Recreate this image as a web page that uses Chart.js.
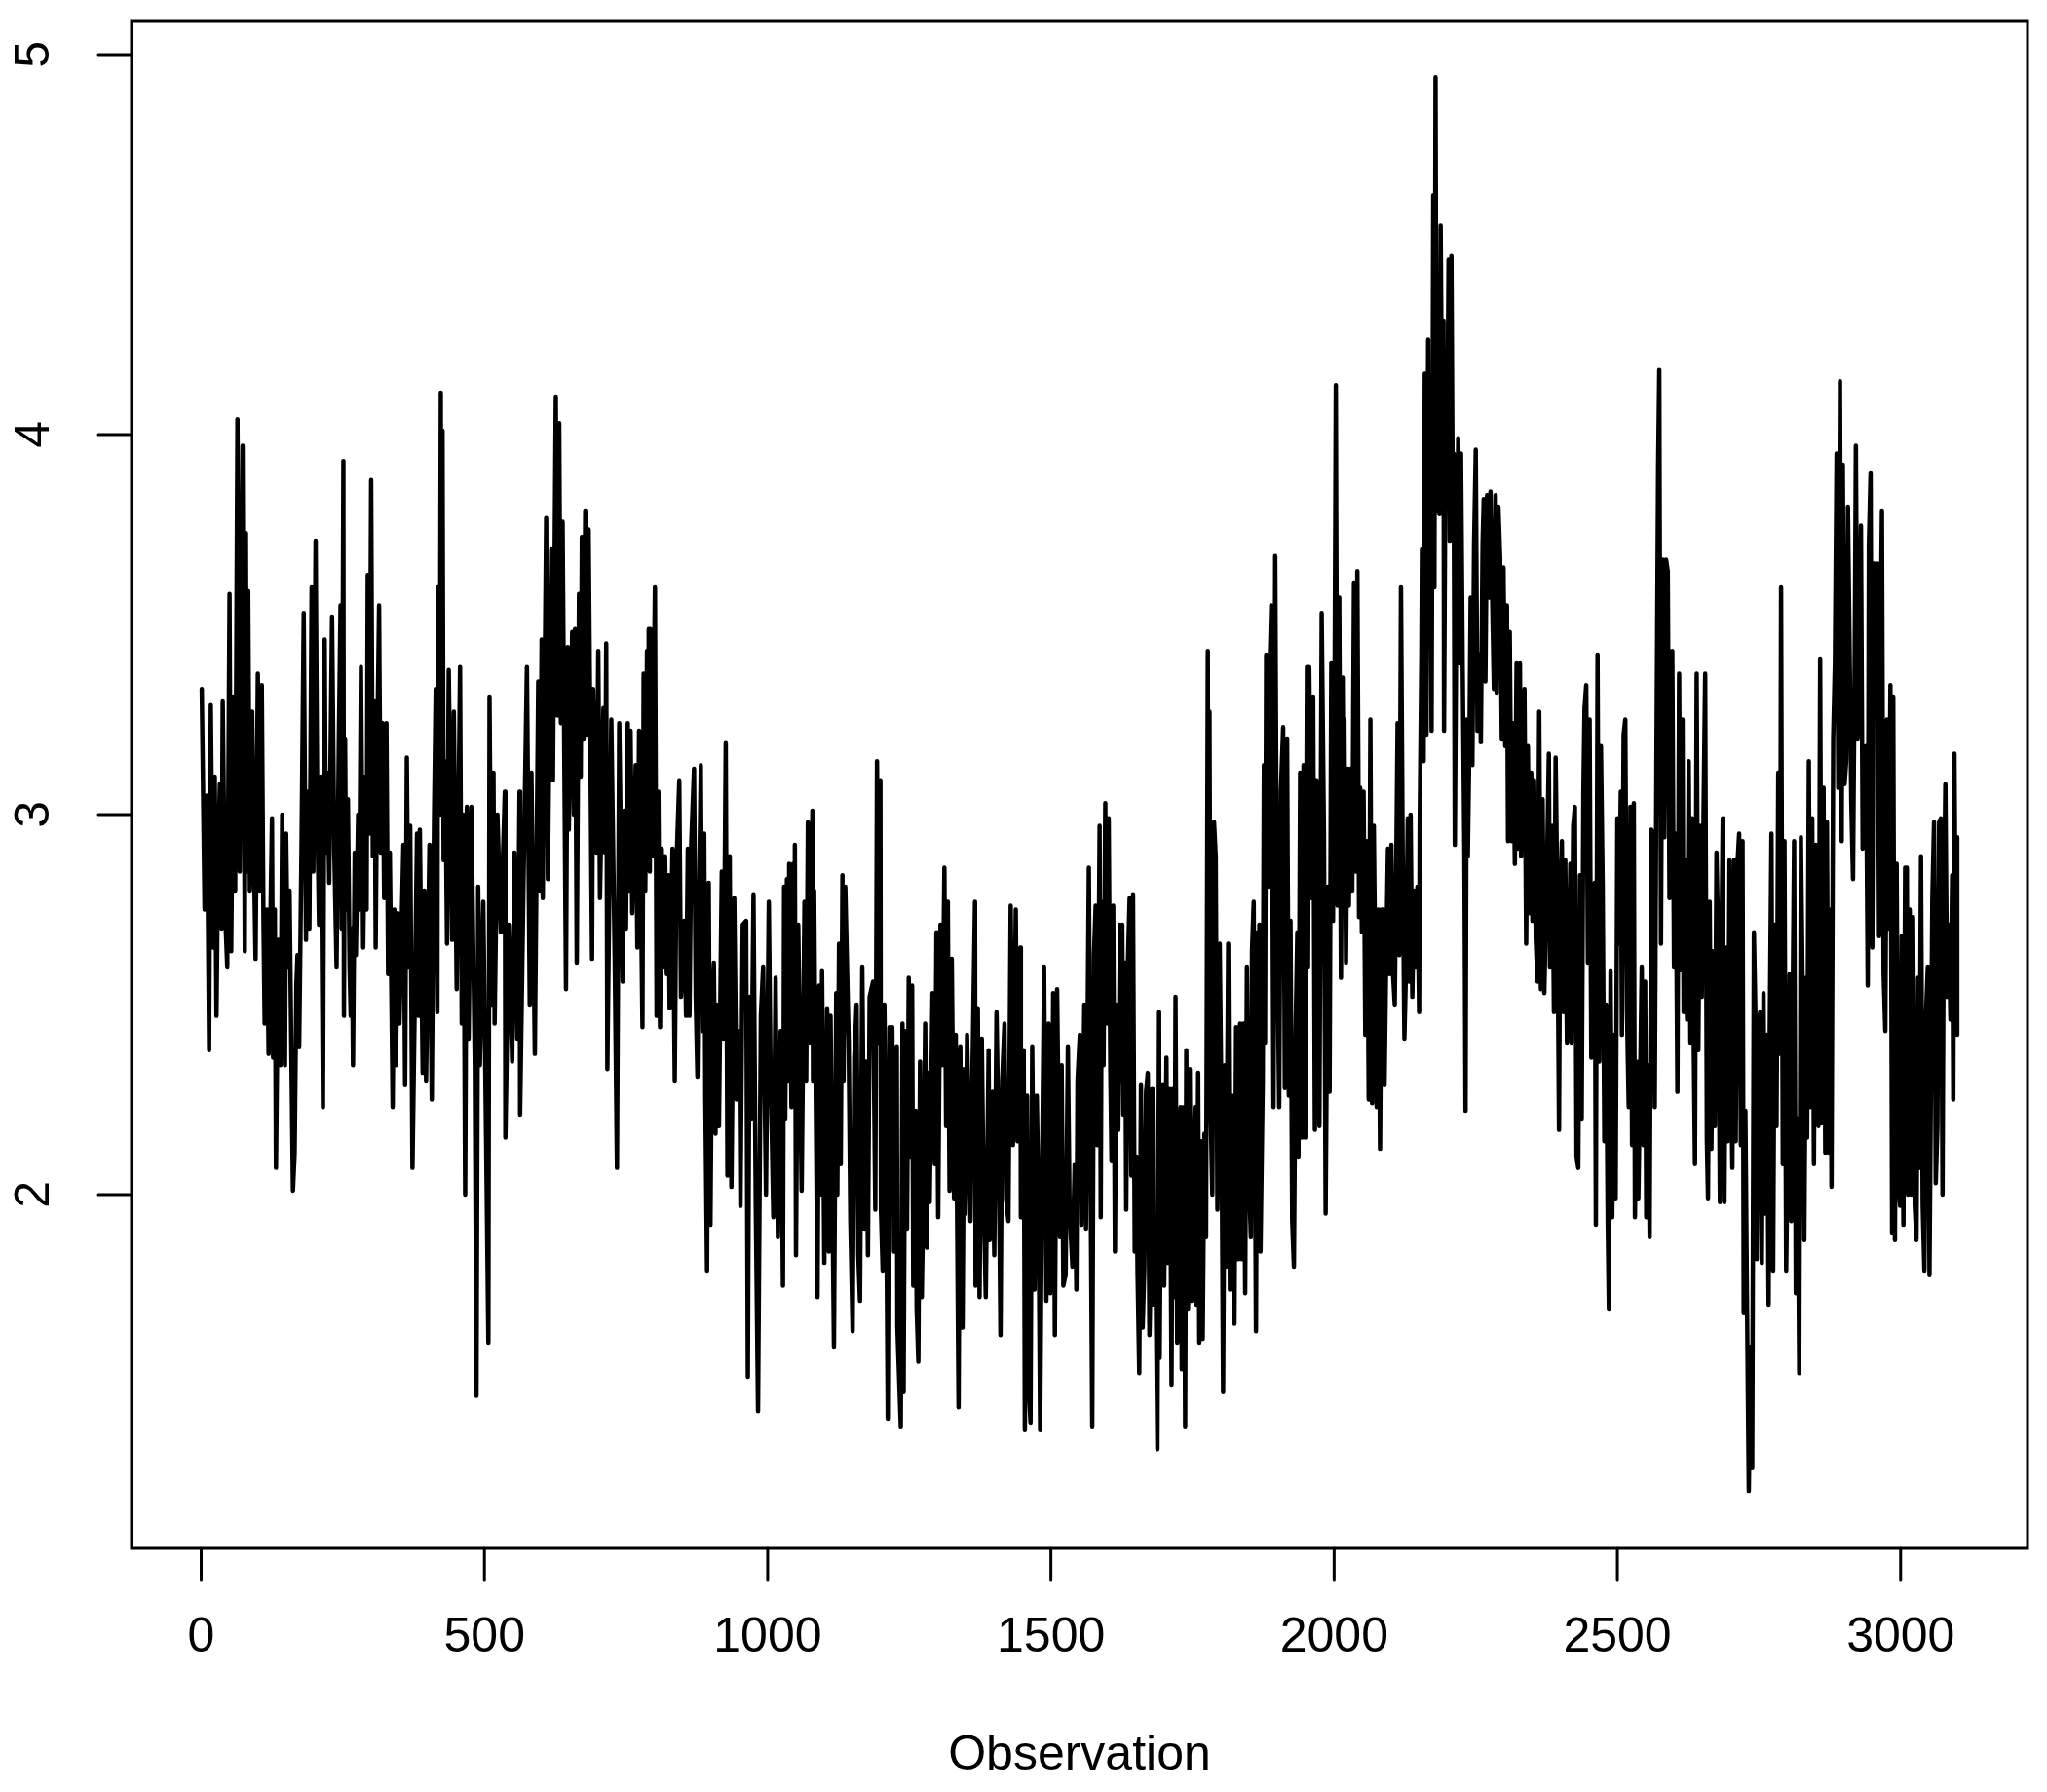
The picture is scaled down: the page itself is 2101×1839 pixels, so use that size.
<!DOCTYPE html>
<html>
<head>
<meta charset="utf-8">
<script src="https://cdn.jsdelivr.net/npm/chart.js@4/dist/chart.umd.min.js"></script>
<style>
html,body{margin:0;padding:0;background:#ffffff;}
canvas{display:block;}
</style>
</head>
<body>
<canvas id="c" width="2101" height="1839"></canvas>
<script>
// Observation index of each read-off point
const observation = [
1,6,10,14,17,21,24,27,30,33,36,38,42,46,50,53,57,60,64,68,73,77,79,81,83,86,90,93,96,100,103,107,110,112,116,119,122,125,127,130,132,136,140,143,146,148,150,153,156,159,162,165,168,170,173,177,181,185,188,191,195,198,202,205,208,211,215,218,220,223,226,231,235,239,243,246,248,251,252,254,256,259,262,264,266,268,271,273,277,279,282,286,290,292,294,297,300,303,306,308,311,314,317,320,323,327,330,333,338,341,344,347,350,357,360,363,366,369,373,377,381,384,
386,391,394,397,403,407,411,414,417,418,421,423,424,426,428,431,434,437,443,446,451,457,460,463,466,469,472,477,483,486,489,492,498,503,507,509,513,516,518,523,529,536,537,543,549,553,558,562,563,569,575,580,583,589,595,598,601,603,609,612,618,621,626,629,632,635,638,644,647,649,655,658,660,663,667,670,672,675,678,681,684,690,692,698,701,704,710,713,715,717,724,730,734,738,744,747,750,753,756,758,761,767,770,773,779,781,
784,787,789,790,792,793,796,801,804,807,810,813,816,819,822,825,827,832,836,839,844,847,853,856,859,862,865,870,873,876,879,882,885,888,890,893,896,899,902,905,908,910,914,919,922,926,929,933,936,941,945,950,952,956,962,965,968,971,975,979,983,988,992,997,1002,1005,1010,1014,1018,1023,1027,1029,1031,1034,1036,1038,1042,1045,1047,1048,1050,1054,1060,1065,1068,1071,1074,1079,1080,1082,1084,1088,1091,1093,1096,1100,1105,1108,1111,1117,1121,1123,1126,1129,1132,1134,1137,1143,1146,1150,1153,1157,1160,1163,1167,1171,1174,1177,1180,1186,1190,1193,
1196,1199,1200,1203,1206,1209,1212,1215,1218,1220,1223,1228,1229,1235,1238,1240,1243,1246,1249,1252,1255,1257,1261,1263,1266,1269,1272,1275,1278,1281,1283,1286,1291,1295,1298,1301,1305,1308,1312,1315,1318,1321,1325,1329,1332,1337,1340,1344,1347,1349,1352,1358,1361,1366,1367,1371,1374,1378,1381,1385,1390,1392,1397,1400,1404,1408,1411,1414,1418,1421,1425,1429,1433,1438,1441,1446,1447,1452,1454,1458,1461,1464,1467,1471,1475,1478,1481,1484,1488,1492,1496,1499,1502,1504,1507,1511,1516,1519,1522,1526,1530,1533,1538,1542,1545,1547,1551,1554,1559,1562,1567,1570,1573,1576,1579,1582,1586,1588,
1590,1593,1596,1599,1602,1605,1607,1610,1613,1616,1619,1622,1624,1626,1628,1631,1633,1636,1639,1642,1645,1648,1651,1653,1656,1659,1662,1665,1668,1671,1674,1676,1679,1682,1685,1688,1691,1692,1695,1698,1700,1704,1706,1710,1713,1715,1718,1720,1723,1727,1729,1731,1735,1737,1739,1742,1745,1748,1751,1754,1757,1760,1762,1765,1768,1771,1774,1777,1778,1780,1782,1785,1788,1791,1794,1798,1801,1804,1807,1809,1813,1816,1820,1824,1827,1831,1834,1837,1840,1843,1846,1849,1853,1855,1858,1862,1865,1867,1868,1870,1874,1876,1878,1880,1883,1886,1889,1893,1896,1899,1903,1906,1910,1913,1917,1920,1923,1926,1929,1932,1935,1937,1940,1943,1946,1949,1952,1954,1956,1960,1963,1966,1969,1974,1978,1982,1985,
1989,1992,1995,1998,2001,2003,2006,2009,2012,2015,2017,2018,2021,2024,2026,2029,2032,2035,2038,2041,2044,2046,2049,2052,2055,2058,2061,2064,2067,2070,2075,2078,2081,2084,2085,2087,2089,2092,2095,2098,2101,2104,2107,2110,2112,2115,2118,2121,2124,2127,2130,2133,2135,2138,2141,2144,2147,2150,2151,2154,2155,2158,2160,2163,2166,2168,2170,2172,2175,2177,2179,2181,2184,2186,2188,2191,2193,2194,2197,2199,2202,2204,2207,2209,2211,2213,2216,2219,2221,2224,2227,2230,2232,2234,2236,2239,2241,2244,2247,2250,2253,2256,2259,2262,2264,2267,2270,2273,2276,2279,2282,2285,2287,2290,2293,2296,2299,2302,2305,2307,2310,2313,2316,2319,2322,2325,2328,2330,2333,2336,2339,2342,2345,2348,2350,2353,2356,2359,2362,2365,2368,2371,2376,2379,2381,
2385,2388,2391,2394,2397,2399,2402,2405,2408,2411,2414,2417,2419,2422,2425,2428,2431,2434,2437,2440,2442,2445,2448,2451,2454,2457,2460,2462,2465,2468,2471,2474,2477,2480,2483,2485,2488,2491,2494,2497,2500,2503,2506,2508,2511,2514,2517,2520,2523,2526,2529,2531,2534,2537,2540,2543,2546,2549,2551,2554,2557,2560,2563,2566,2569,2572,2574,2577,2580,2583,2586,2589,2592,2594,2597,2600,2603,2606,2609,2612,2615,2617,2620,2623,2626,2629,2632,2635,2637,2640,2643,2646,2649,2652,2655,2658,2660,2663,2666,2669,2672,2675,2678,2681,2683,2686,2689,2692,2695,2698,2701,2703,2706,2709,2712,2715,2718,2721,2723,2726,2729,2732,2735,2738,2741,2744,2746,2749,2752,2755,2758,2761,2764,2767,2769,2772,2775,
2778,2781,2784,2787,2789,2792,2795,2798,2801,2804,2807,2810,2812,2815,2818,2821,2824,2827,2830,2833,2835,2838,2841,2844,2847,2850,2853,2855,2858,2861,2864,2867,2870,2873,2876,2878,2881,2884,2887,2890,2893,2896,2898,2901,2904,2907,2910,2913,2916,2919,2921,2924,2927,2930,2933,2936,2939,2942,2944,2947,2950,2953,2956,2959,2962,2964,2967,2970,2973,2976,2979,2982,2985,2987,2990,2993,2996,2999,3002,3005,3008,3010,3011,3013,3016,3019,3022,3025,3028,3031,3033,3036,3039,3042,3045,3048,3051,3053,3056,3059,3062,3065,3068,3071,3074,3076,3079,3082,3085,3088,3091,3093,3095,3097,3099,3100
];

// Value at each observation
const value = [
3.33,2.75,3.05,2.38,3.29,2.65,3.10,2.47,2.90,3.08,2.70,3.30,2.75,2.60,3.58,2.64,3.31,2.80,4.04,2.85,3.97,2.64,3.74,2.85,3.59,2.80,3.27,2.90,2.62,3.37,2.80,3.34,2.71,2.45,2.75,2.37,2.70,2.99,2.36,2.75,2.07,2.67,2.34,3.00,2.60,2.34,2.95,2.60,2.80,2.40,2.01,2.11,2.55,2.63,2.39,2.90,3.53,2.67,3.06,2.70,3.60,2.85,3.72,3.00,2.71,3.10,2.23,3.46,2.90,3.11,2.82,3.52,2.90,2.60,3.20,3.55,2.70,3.93,2.47,3.20,2.75,3.04,2.60,2.47,2.70,2.34,2.90,2.63,3.00,2.75,3.39,2.65,3.10,2.75,3.63,2.95,3.88,2.89,3.30,2.65,3.20,3.55,2.90,3.24,2.78,3.24,2.58,2.90,2.23,2.75,2.34,2.74,2.45,2.92,2.29,3.15,2.60,2.97,2.07,2.50,2.95,2.47,
2.96,2.32,2.80,2.30,2.92,2.25,2.98,3.33,2.48,3.60,3.00,4.11,3.00,4.01,2.88,3.14,2.66,3.38,2.67,3.27,2.54,3.39,2.45,3.00,2.00,3.02,2.41,3.02,2.34,1.47,2.81,2.34,2.77,2.14,1.61,3.31,2.50,3.11,2.45,3.00,2.69,3.06,2.15,2.71,2.35,2.90,2.41,3.06,2.21,2.82,3.39,2.50,3.11,2.37,3.35,2.80,3.46,2.78,3.78,2.83,3.70,3.09,4.10,3.26,4.03,3.24,3.77,2.54,3.44,2.96,3.48,3.00,3.49,2.61,3.58,3.10,3.73,3.20,3.80,3.21,3.75,2.62,3.33,2.90,3.43,2.78,3.28,2.90,3.45,2.33,3.25,2.62,2.07,3.24,2.56,3.01,2.70,3.24,2.80,3.22,2.74,3.13,2.65,3.22,2.44,3.37,
2.80,3.43,2.90,3.49,2.85,3.49,2.89,3.60,2.47,3.06,2.44,2.91,2.60,2.89,2.58,2.84,2.49,2.91,2.30,2.87,3.09,2.52,2.72,2.47,2.91,2.47,2.92,3.12,2.52,2.31,2.80,3.13,2.43,2.95,2.25,1.80,2.82,1.92,2.50,2.61,2.16,2.50,2.18,2.85,2.41,3.19,2.05,2.89,2.02,2.78,2.25,2.43,1.97,2.71,2.72,1.52,2.52,2.20,2.79,1.97,1.43,2.47,2.60,2.00,2.77,2.34,1.94,2.57,1.89,2.43,1.76,2.81,2.20,2.83,2.30,2.87,2.23,2.87,2.40,2.92,1.84,2.71,2.01,2.77,2.30,2.98,2.40,3.01,2.30,2.80,2.41,1.73,2.55,2.00,2.59,1.82,2.49,1.85,2.47,1.60,2.53,2.00,2.66,2.08,2.84,2.30,2.81,2.40,1.93,1.64,2.36,2.50,1.84,1.72,2.60,1.91,2.35,1.84,2.52,2.56,1.96,3.14,
2.40,3.09,1.96,1.80,2.50,2.07,1.41,2.44,2.07,2.44,1.85,2.39,1.65,1.39,2.45,1.48,2.43,1.91,2.57,2.10,2.55,1.76,2.22,1.70,1.56,2.35,1.73,2.01,2.45,1.86,2.32,1.98,2.53,2.08,2.69,1.94,2.71,2.34,2.86,2.18,2.77,2.01,2.62,1.99,2.42,1.44,2.39,1.65,2.33,1.95,2.42,1.93,2.27,2.77,1.76,2.49,1.73,2.41,2.03,1.73,2.38,1.88,2.27,1.84,2.48,2.10,1.63,2.30,2.45,1.99,1.93,2.76,2.13,2.75,2.14,2.65,1.94,2.38,1.38,2.26,1.49,1.40,2.39,1.75,2.26,2.00,1.38,2.00,2.60,1.72,2.45,1.74,1.98,2.53,1.63,2.54,1.89,2.34,1.76,1.79,2.39,1.96,1.81,2.08,1.75,2.30,2.42,1.92,2.50,1.91,2.86,2.07,1.39,2.63,2.76,2.13,2.97,1.94,
2.77,2.34,3.03,2.45,2.99,2.32,2.09,2.76,1.85,2.50,2.17,2.71,2.30,2.71,2.21,2.61,1.96,2.61,2.78,2.05,2.79,1.85,2.10,1.79,1.53,2.29,1.65,1.81,2.27,2.32,1.63,1.79,2.28,1.71,1.77,1.33,2.48,1.57,2.23,2.29,1.76,2.36,1.82,2.28,1.50,2.28,1.73,2.52,1.61,2.14,2.23,1.54,2.23,1.39,2.38,1.70,2.33,1.72,2.07,2.23,1.71,2.32,1.61,2.14,1.62,2.16,1.89,3.43,2.60,3.27,2.22,2.00,2.98,2.89,1.96,2.66,2.25,1.48,2.34,1.81,2.66,1.75,2.26,1.66,2.44,1.83,2.45,1.83,2.45,1.74,2.60,2.07,1.89,2.64,2.77,1.64,2.69,2.20,2.71,1.85,2.30,3.13,2.40,3.42,2.81,3.38,3.55,2.23,3.68,2.75,2.23,3.06,3.23,2.28,3.20,2.26,2.72,1.93,1.81,2.43,2.69,2.10,3.11,2.15,3.13,2.15,3.39,2.60,3.39,2.78,3.31,2.17,3.09,2.18,3.53,2.96,1.95,
2.81,2.27,3.40,2.72,3.39,4.13,2.76,3.57,2.57,3.36,2.90,3.25,2.61,3.12,2.76,3.12,2.80,3.61,2.85,3.64,2.73,3.07,2.69,3.06,2.42,2.93,2.25,3.25,2.24,2.97,2.23,2.75,2.12,2.75,2.40,2.75,2.29,2.63,2.91,2.58,2.92,2.58,2.50,2.92,3.24,2.63,3.60,2.90,2.41,2.60,2.99,2.56,3.00,2.52,2.80,2.60,2.81,2.48,2.97,3.42,3.70,3.14,4.16,3.21,4.25,3.50,4.00,3.22,4.63,3.60,4.94,3.80,4.40,3.79,4.55,3.90,4.30,3.22,4.10,3.84,4.46,3.72,4.47,3.91,3.95,2.92,3.63,3.99,3.40,3.95,3.38,2.89,2.22,3.25,2.89,3.22,3.57,3.13,3.71,3.96,3.22,3.42,3.19,3.71,3.83,3.35,3.84,3.57,3.85,3.57,3.33,3.84,3.32,3.81,3.68,3.20,3.65,3.18,3.55,2.93,3.48,2.93,3.24,2.87,3.40,2.91,3.40,2.89,3.22,3.33,2.66,3.18,2.74,3.11,2.72,3.09,2.67,2.56,3.27,2.54,3.04,2.53,2.88,3.16,2.60,
2.97,2.48,3.15,2.78,2.17,2.77,2.93,2.48,2.88,2.40,2.61,2.87,2.40,2.97,3.02,2.10,2.07,2.84,2.20,3.06,3.28,3.34,2.61,3.25,2.36,2.79,2.82,1.92,3.42,2.35,3.18,2.82,2.14,2.50,1.92,1.70,2.59,1.94,2.42,1.99,2.99,2.66,3.06,2.42,3.21,3.25,2.48,2.23,3.02,2.13,3.03,1.94,2.35,1.99,2.28,2.60,2.13,2.56,1.94,2.34,1.89,2.96,2.95,2.23,3.15,3.92,4.17,2.66,3.67,2.94,3.67,3.64,2.78,3.37,3.43,2.60,2.95,2.27,3.37,2.59,3.25,2.48,2.88,2.46,3.14,2.40,2.99,2.37,2.08,3.37,2.38,2.97,2.52,2.99,3.37,2.14,1.99,2.77,2.12,2.64,2.18,2.90,2.67,1.98,2.54,2.99,1.98,2.65,2.14,2.88,2.31,2.07,2.88,2.14,2.87,2.95,2.13,2.93,1.69,2.22,1.69,1.22,1.60,1.28,2.69,2.45,1.83,2.45,2.48,1.82,2.53,1.95,2.42,1.71,2.43,2.95,1.80,
2.71,2.18,3.11,2.37,3.60,2.08,2.93,1.80,2.16,2.58,1.93,2.58,2.93,1.74,2.20,1.53,2.94,2.55,1.88,2.57,2.15,3.14,2.23,2.99,2.08,2.92,2.23,2.18,3.41,2.19,3.07,2.11,2.98,2.11,2.75,2.02,3.20,3.40,3.95,3.07,4.14,2.93,3.92,3.08,3.14,3.81,3.43,3.03,2.83,3.43,3.97,3.20,3.41,3.76,2.91,3.01,3.18,2.55,3.71,3.90,2.65,3.66,3.35,3.66,2.68,3.35,3.80,2.58,2.43,3.25,2.70,3.34,1.90,3.31,1.88,2.87,2.04,1.97,2.68,1.92,2.86,2.40,2.86,2.00,2.75,2.00,2.73,1.97,1.88,2.57,2.07,2.89,1.97,1.80,2.48,2.60,1.79,2.18,2.78,2.98,2.03,2.18,2.98,2.99,2.00,2.69,3.08,2.52,2.71,2.46,2.84,2.25,3.16,2.73,2.94,2.42
];

const xTickValues = [0, 500, 1000, 1500, 2000, 2500, 3000];
const yTickValues = [2, 3, 4, 5];
const xAxisTitle = "Observation";

const FONT = '"Liberation Sans", Arial, Helvetica, sans-serif';
const points = observation.map((o, i) => ({ x: o, y: value[i] }));

const rStyleAxes = {
  id: 'rStyleAxes',
  afterDraw(chart) {
    const ctx = chart.ctx;
    const a = chart.chartArea;
    const xs = chart.scales.x, ys = chart.scales.y;
    ctx.save();
    ctx.strokeStyle = '#000';
    ctx.lineWidth = 3;
    ctx.lineCap = 'round';
    ctx.strokeRect(a.left, a.top, a.right - a.left, a.bottom - a.top);
    ctx.beginPath();
    xTickValues.forEach(v => {
      const px = xs.getPixelForValue(v);
      ctx.moveTo(px, a.bottom);
      ctx.lineTo(px, a.bottom + 32);
    });
    yTickValues.forEach(v => {
      const py = ys.getPixelForValue(v);
      ctx.moveTo(a.left, py);
      ctx.lineTo(a.left - 34, py);
    });
    ctx.stroke();
    ctx.fillStyle = '#000';
    ctx.font = '50px ' + FONT;
    ctx.textAlign = 'center';
    ctx.textBaseline = 'middle';
    xTickValues.forEach(v => ctx.fillText(String(v), xs.getPixelForValue(v), a.bottom + 92));
    yTickValues.forEach(v => {
      ctx.save();
      ctx.translate(a.left - 99, ys.getPixelForValue(v));
      ctx.rotate(-Math.PI / 2);
      ctx.fillText(String(v), 0, 0);
      ctx.restore();
    });
    ctx.fillText(xAxisTitle, (a.left + a.right) / 2, a.bottom + 213);
    ctx.restore();
  }
};

new Chart(document.getElementById('c').getContext('2d'), {
  type: 'line',
  data: {
    datasets: [{
      data: points,
      borderColor: '#000000',
      borderWidth: 4.5,
      pointRadius: 0,
      tension: 0,
      fill: false,
      borderCapStyle: 'round',
      borderJoinStyle: 'round'
    }]
  },
  options: {
    responsive: false,
    animation: false,
    events: [],
    layout: { padding: { top: 22, right: 20, left: 0, bottom: 0 } },
    plugins: { legend: { display: false }, tooltip: { enabled: false } },
    scales: {
      x: {
        type: 'linear',
        min: -123,
        max: 3224,
        grid: { display: false },
        border: { display: false },
        ticks: { display: false },
        afterFit(s) { s.height = 250; }
      },
      y: {
        type: 'linear',
        min: 1.069,
        max: 5.087,
        grid: { display: false },
        border: { display: false },
        ticks: { display: false },
        afterFit(s) { s.width = 135; }
      }
    }
  },
  plugins: [rStyleAxes]
});
</script>
</body>
</html>
